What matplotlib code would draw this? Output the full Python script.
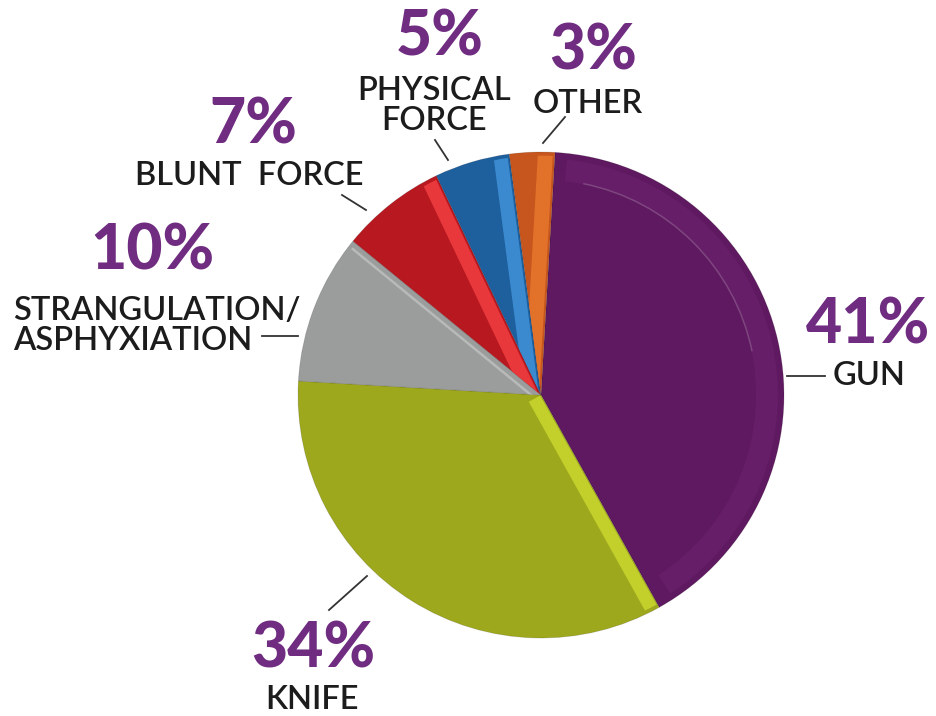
import matplotlib.pyplot as plt
from matplotlib.patches import Wedge, Polygon
import numpy as np

labels = ['GUN', 'KNIFE', 'STRANGULATION/\nASPHYXIATION', 'BLUNT FORCE', 'PHYSICAL\nFORCE', 'OTHER']
shares = [41, 34, 10, 7, 5, 3]
colors = ['#5f1960', '#9ea81d', '#9b9d9c', '#b8181f', '#1e5f9d', '#c6561d']
light = ['#671e68', '#c3cf2b', '#b8bab9', '#e8383c', '#3b8ad0', '#e2712a']

H = 716
cx, cy, R = 541, H - 395, 243

fig = plt.figure(figsize=(9.36, 7.16), dpi=100)
ax = fig.add_axes([0, 0, 1, 1])

wedges, _ = ax.pie(shares, colors=colors, startangle=86.7, counterclock=False,
                   center=(cx, cy), radius=R, frame=True,
                   wedgeprops=dict(linewidth=0.6, edgecolor='#00000025'))
ax.set_xlim(0, 936)
ax.set_ylim(0, H)
ax.set_aspect('equal')
ax.axis('off')


def strip(w, ang, side, off, width, color):
    # a band running along one straight edge of the wedge, clipped to it
    a = np.radians(ang)
    d = np.array([np.cos(a), np.sin(a)])
    n = side * np.array([-np.sin(a), np.cos(a)])
    c = np.array([cx, cy])
    p = [c + n * off, c + d * R * 1.1 + n * off,
         c + d * R * 1.1 + n * (off + width), c + n * (off + width)]
    clip = Wedge((cx, cy), R * 0.985, w.theta1, w.theta2, transform=ax.transData)
    poly = Polygon(p, closed=True, color=color, lw=0)
    ax.add_patch(poly)
    poly.set_clip_path(clip)


for i, w in enumerate(wedges):
    if i == 0:
        # soft lighter rim on the big purple slice
        ax.add_patch(Wedge((cx, cy), R * 0.975, w.theta1 + 4, w.theta2 - 3, width=R * 0.09,
                           color=light[i], lw=0))
        ax.add_patch(Wedge((cx, cy), R * 0.89, w.theta2 - 75, w.theta2 - 8, width=R * 0.006,
                           color='#8a5a8c', lw=0, alpha=0.7))
    elif i == 1:
        strip(w, w.theta2, -1, 1, 13, light[i])
    elif i == 2:
        strip(w, w.theta1, 1, 5, 2.5, light[i])
    elif i == 5:
        strip(w, w.theta1, 1, 2, 15, light[i])
    else:
        strip(w, w.theta1, 1, 2, 14, light[i])

pct_color = '#6f2c80'
txt_color = '#1c1c1c'
line_color = '#333333'

# (pct x, pct baseline, label x, label baseline, label ha, leader line) in pixels from top-left
spots = [
    (868, 343, 833, 385, 'left', ((787, 376), (825, 376))),
    (313, 668, 312, 709, 'center', ((329, 610), (367, 576))),
    (152, 270, 13, 350, 'left', ((262, 336), (298, 336))),
    (253, 143, 249, 185, 'center', ((342, 195), (366, 210))),
    (440, 56, 434, 130, 'center', ((435, 140), (448, 160))),
    (593, 70, 588, 113, 'center', ((565, 117), (543, 143))),
]

for lab, v, (px, py, lx, ly, ha, ln) in zip(labels, shares, spots):
    ax.text(px, H - py, f'{v}%', ha='center', va='baseline', fontsize=45,
            color=pct_color, family='Lato', weight='black')
    ax.text(lx, H - ly, lab.replace('BLUNT FORCE', 'BLUNT  FORCE'), ha=ha, va='baseline',
            fontsize=23.5, color=txt_color, family='Lato', weight='semibold',
            linespacing=0.98, multialignment='left' if ha == 'left' else 'center')
    (x1, y1), (x2, y2) = ln
    ax.plot([x1, x2], [H - y1, H - y2], color=line_color, lw=1.3)

fig.savefig('out.png', dpi=100, facecolor='white')
